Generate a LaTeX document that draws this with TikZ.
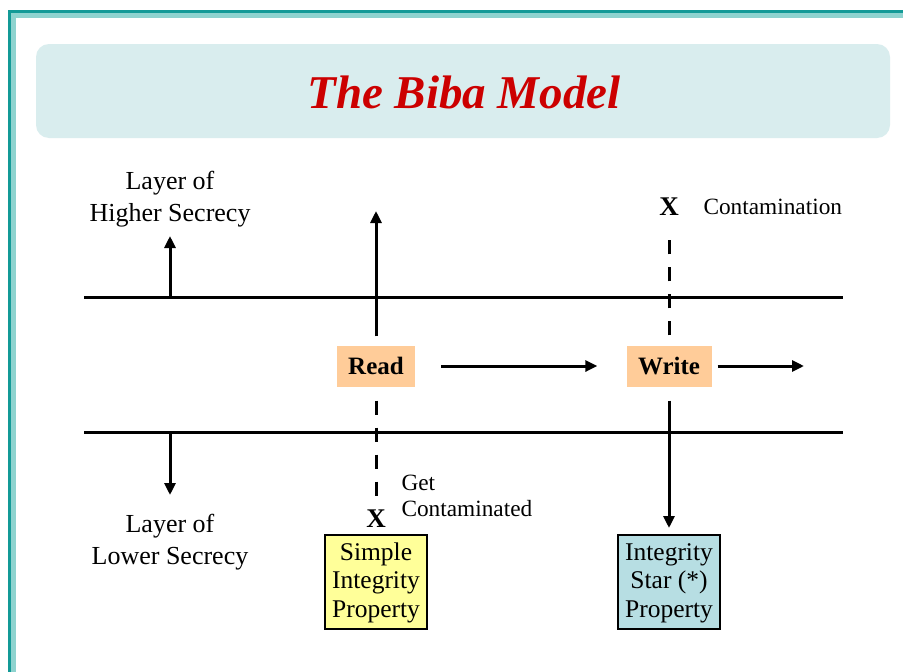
\documentclass[tikz,border=0pt]{standalone}
\usepackage{fontspec}
\setmainfont{Liberation Serif}
\usetikzlibrary{arrows.meta}
\definecolor{tealdark}{HTML}{139A97}
\definecolor{teallight}{HTML}{8ED3CF}
\definecolor{titlefill}{HTML}{D9EDEE}
\definecolor{titlered}{HTML}{CC0000}
\definecolor{opfill}{HTML}{FFCC99}
\definecolor{simplefill}{HTML}{FFFF99}
\definecolor{starfill}{HTML}{B7DEE3}
\tikzset{
  layerline/.style={line width=3pt},
  flow/.style={line width=3pt,-{Triangle[length=12pt,width=11pt]}},
  taint/.style={line width=3pt,dash pattern=on 14pt off 13pt},
  opbox/.style={fill=opfill,inner sep=0pt,minimum height=41pt,
    font=\fontsize{25}{30}\selectfont\bfseries},
  propbox/.style={draw,line width=2pt,inner sep=0pt,minimum width=102pt,
    minimum height=94pt,align=center,font=\fontsize{25.5}{28.5}\selectfont},
  layertext/.style={align=center,font=\fontsize{26}{32}\selectfont},
  notetext/.style={align=left,font=\fontsize{23.3}{26}\selectfont},
  xmark/.style={font=\fontsize{27}{27}\selectfont\bfseries,inner sep=0pt}
}
\begin{document}
\begin{tikzpicture}[x=1pt,y=-1pt]
\useasboundingbox (0,0) rectangle (903,672);
% slide frame
\fill[white] (0,0) rectangle (903,672);
\fill[teallight] (8,10) rectangle (903,672);
\fill[white] (16,18) rectangle (903,672);
\draw[tealdark,line width=2.5pt] (9.5,672) -- (9.5,11.5) -- (903,11.5);
% title banner
\node[fill=titlefill,rounded corners=13pt,minimum width=854pt,minimum height=94pt]
  (banner) at (463,91) {};
\node[text=titlered,font=\fontsize{47}{50}\selectfont\bfseries\itshape]
  (title) at (464,92) {The Biba Model};
% layer boundaries
\coordinate (tl) at (84,297);
\coordinate (tr) at (843,297);
\coordinate (bl) at (84,432);
\coordinate (br) at (843,432);
\draw[layerline] (tl) -- (tr);
\draw[layerline] (bl) -- (br);
% layer labels and direction arrows
\node[layertext] (high) at (170,199) {Layer of\\Higher Secrecy};
\node[layertext] (low) at (170,542) {Layer of\\Lower Secrecy};
\coordinate (upfoot) at (170,297);
\coordinate (uptip) at (170,236);
\coordinate (dnfoot) at (170,432);
\coordinate (dntip) at (170,495);
\draw[flow] (upfoot) -- (uptip);
\draw[flow] (dnfoot) -- (dntip);
% operations
\node[opbox,minimum width=78pt] (read) at (376,366) {Read};
\node[opbox,minimum width=85pt] (write) at (669,366) {Write};
\coordinate (readtip) at (376,211);
\coordinate (writeend) at (804,366);
\draw[flow,shorten <=9pt] (read.north) -- (readtip);
\draw[flow,shorten <=26pt,shorten >=29pt] (read.east) -- (write.west);
\draw[flow,shorten <=6pt] (write.east) -- (writeend);
% properties
\node[propbox,fill=simplefill] (simple) at (376,582) {\vphantom{Ip}\\[-26pt]Simple\\Integrity\\Property};
\node[propbox,fill=starfill] (star) at (669,582) {\vphantom{Ip}\\[-26pt]Integrity\\Star (*)\\Property};
% contamination marks
\node[xmark] (xread) at (376,519) {X};
\node[xmark] (xwrite) at (669,207) {X};
\draw[taint,shorten <=14pt,shorten >=2pt] (read.south) -- (xread.north);
\draw[taint,shorten <=10pt,shorten >=14pt] (write.north) -- (xwrite.south);
\draw[flow,shorten <=14pt,shorten >=6pt] (write.south) -- (star.north);
\node[notetext,anchor=west] (gc) at (398,496) {Get\\Contaminated};
\node[notetext,anchor=west] (cont) at (700,207) {Contamination};
\end{tikzpicture}
\end{document}
